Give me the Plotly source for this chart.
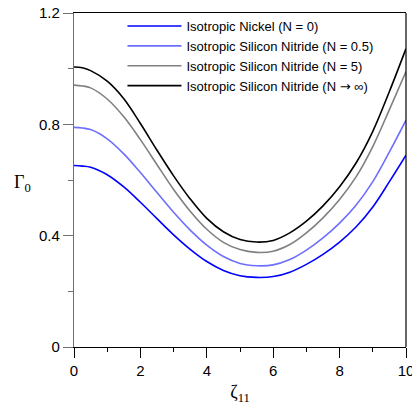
import plotly.graph_objects as go

zeta = [0, 0.25, 0.5, 1, 1.5, 2, 2.5, 3, 3.5, 4, 4.5, 5, 5.5, 6, 6.5, 7, 7.5, 8, 8.5, 9, 9.5, 10]

nickel = [0.652, 0.650, 0.646, 0.619, 0.575, 0.520, 0.461, 0.403, 0.351, 0.307, 0.275, 0.256, 0.250,
          0.253, 0.269, 0.297, 0.333, 0.377, 0.432, 0.503, 0.594, 0.689]
sin_05 = [0.789, 0.787, 0.781, 0.748, 0.694, 0.627, 0.555, 0.484, 0.420, 0.366, 0.325, 0.300, 0.292,
          0.295, 0.314, 0.348, 0.392, 0.445, 0.510, 0.594, 0.701, 0.815]
sin_5 = [0.941, 0.938, 0.931, 0.891, 0.827, 0.745, 0.655, 0.566, 0.488, 0.423, 0.376, 0.350, 0.340,
         0.344, 0.368, 0.410, 0.464, 0.530, 0.612, 0.720, 0.853, 0.990]
sin_inf = [1.006, 1.003, 0.993, 0.955, 0.892, 0.803, 0.707, 0.615, 0.532, 0.462, 0.414, 0.386, 0.377,
           0.383, 0.410, 0.452, 0.507, 0.576, 0.662, 0.775, 0.918, 1.072]

arrow = '<span style="font-family:DejaVu Sans">\u2192</span>'
names = ["Isotropic Nickel (N = 0)",
         "Isotropic Silicon Nitride (N = 0.5)",
         "Isotropic Silicon Nitride (N = 5)",
         "Isotropic Silicon Nitride (N " + arrow + " \u221e)"]
colors = ["#0000FF", "#6E6EFF", "#808080", "#000000"]
series = [nickel, sin_05, sin_5, sin_inf]

x_ticks = [0, 2, 4, 6, 8, 10]
y_ticks = [0, 0.4, 0.8, 1.2]
y_tick_labels = ["0", "0.4", "0.8", "1.2"]

fig = go.Figure()
for name, col, ys in zip(names, colors, series):
    fig.add_trace(go.Scatter(x=zeta, y=ys, mode="lines", name=name,
                             line=dict(color=col, width=1.6, shape="spline", smoothing=1.0)))

fig.update_layout(
    width=412, height=410,
    margin=dict(l=74, r=6, t=13, b=63, autoexpand=False),
    paper_bgcolor="white", plot_bgcolor="white",
    font=dict(family="Liberation Sans, Arial, sans-serif", size=15, color="black"),
    showlegend=True,
    legend=dict(x=0.146, y=1.006, xanchor="left", yanchor="top",
                bgcolor="rgba(0,0,0,0)", borderwidth=0,
                font=dict(size=13, family="Liberation Sans, Arial, sans-serif"),
                itemwidth=54, tracegroupgap=0),
)

fig.update_xaxes(
    range=[0, 10], tickvals=x_ticks, ticktext=[str(v) for v in x_ticks],
    showgrid=False, zeroline=False, automargin=False,
    showline=True, linecolor="black", linewidth=1.2, mirror=True,
    ticks="outside", ticklen=10, tickwidth=1.2, tickcolor="black",
    minor=dict(dtick=1, ticks="outside", ticklen=4, tickwidth=1.2, tickcolor="black"),
    tickfont=dict(size=15), ticklabeloverflow="allow",
    title=dict(text="\u03b6<sub>11</sub>", font=dict(family="Liberation Serif, Times New Roman, serif", size=18),
               standoff=7),
)

fig.update_yaxes(
    range=[0, 1.2], tickvals=y_ticks, ticktext=y_tick_labels,
    showgrid=False, zeroline=False, automargin=False,
    showline=True, linecolor="#707070", linewidth=1.2, mirror=False,
    ticks="outside", ticklen=10, tickwidth=1.2, tickcolor="#707070",
    minor=dict(dtick=0.2, ticks="outside", ticklen=5, tickwidth=1.2, tickcolor="#707070"),
    tickfont=dict(size=15),
)

# right frame line
fig.add_shape(type="line", xref="paper", yref="paper", x0=1, x1=1, y0=0, y1=1,
              line=dict(color="black", width=1.2))

fig.add_annotation(text="\u0393<sub>0</sub>", xref="paper", yref="paper",
                   x=-0.155, y=0.49, xanchor="center", yanchor="middle", showarrow=False,
                   font=dict(family="Liberation Serif, Times New Roman, serif", size=18, color="black"))

fig.write_html("out.html", config={"displayModeBar": False},
               post_script="document.body.style.margin='0';")
